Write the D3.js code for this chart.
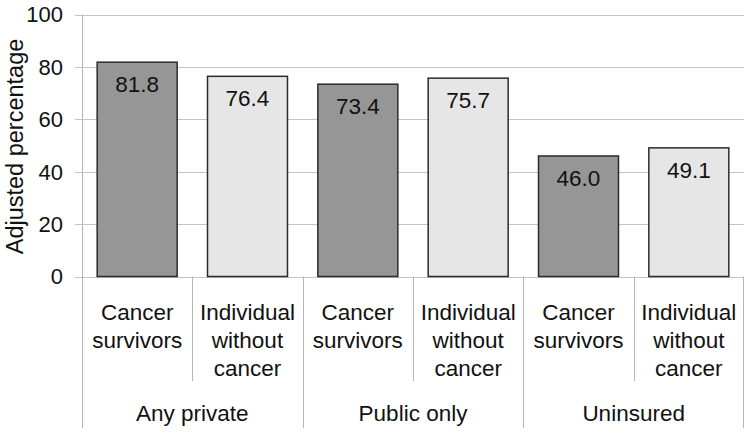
<!DOCTYPE html>
<html>
<head>
<meta charset="utf-8">
<style>
  body { margin: 0; background: #fff; }
  svg text { font-family: 'Liberation Sans', Arial, sans-serif; fill: #111; }
  .grid line { stroke: #c4c4c4; stroke-width: 1; }
  .sep { stroke: #b4b4b4; stroke-width: 1; }
</style>
<title>Adjusted percentage by insurance</title>
</head>
<body>
<svg width="750" height="434"></svg>
<script src="https://cdn.jsdelivr.net/npm/d3@7"></script>
<script>
var groups = ["Any private", "Public only", "Uninsured"];
var seriesNames = ["Cancer survivors", "Individual without cancer"];
var seriesLines = [["Cancer", "survivors"], ["Individual", "without", "cancer"]];
var survivors = [81.8, 73.4, 46.0];
var withoutCancer = [76.4, 75.7, 49.1];
var yTicks = [0, 20, 40, 60, 80, 100];

var colors = ["#969696", "#e6e6e6"];

var svg = d3.select("svg"),
    plotLeft = 82, plotRight = 744, plotTop = 14.5, plotBottom = 276.5;

// one category per bar
var data = [];
groups.forEach(function(g, gi) {
  data.push({group: g, s: 0, key: g + "|0", value: survivors[gi]});
  data.push({group: g, s: 1, key: g + "|1", value: withoutCancer[gi]});
});

var x = d3.scaleBand()
    .domain(data.map(function(d) { return d.key; }))
    .range([plotLeft, plotRight])
    .paddingInner(0.275)
    .paddingOuter(0.1375);

var y = d3.scaleLinear().domain([0, 100]).range([plotBottom, plotTop]);

var step = x.step(),
    half = step * x.paddingInner() / 2;

// gridlines incl. little ticks left of the axis
var grid = svg.append("g").attr("class", "grid");
grid.selectAll("line").data(yTicks).enter().append("line")
    .attr("x1", plotLeft - 7).attr("x2", plotRight)
    .attr("y1", function(d) { return Math.round(y(d)) + 0.5; })
    .attr("y2", function(d) { return Math.round(y(d)) + 0.5; });

svg.append("g").selectAll("text").data(yTicks).enter().append("text")
    .attr("x", plotLeft - 19)
    .attr("y", function(d) { return y(d); })
    .attr("dy", "0.36em")
    .attr("text-anchor", "end")
    .style("font-size", "22px")
    .text(function(d) { return d; });

// vertical axis, extended down through the label area
svg.append("line").attr("class", "sep")
    .attr("x1", plotLeft + 0.5).attr("x2", plotLeft + 0.5)
    .attr("y1", plotTop).attr("y2", 428);

// separators between bars inside a group (short) and between groups (long)
data.forEach(function(d, i) {
  if (i === 0) return;
  var xs = Math.round(x(d.key) - half) + 0.5;
  svg.append("line").attr("class", "sep")
      .attr("x1", xs).attr("x2", xs)
      .attr("y1", plotBottom).attr("y2", d.s === 1 ? 381 : 428);
});
svg.append("line").attr("class", "sep")
    .attr("x1", plotRight - 0.5).attr("x2", plotRight - 0.5)
    .attr("y1", plotBottom).attr("y2", 428);

// bars
svg.append("g").selectAll("rect").data(data).enter().append("rect")
    .attr("x", function(d) { return x(d.key); })
    .attr("y", function(d) { return y(d.value); })
    .attr("width", x.bandwidth())
    .attr("height", function(d) { return y(0) - y(d.value); })
    .attr("fill", function(d) { return colors[d.s]; })
    .attr("stroke", "#2b2b2b")
    .attr("stroke-width", 1.5);

// value labels
svg.append("g").selectAll("text").data(data).enter().append("text")
    .attr("x", function(d) { return x(d.key) + x.bandwidth() / 2; })
    .attr("y", function(d) { return y(d.value) + 30; })
    .attr("text-anchor", "middle")
    .style("font-size", "22.5px")
    .text(function(d) { return d.value.toFixed(1); });

// category labels
var cat = svg.append("g").selectAll("text").data(data).enter().append("text")
    .attr("text-anchor", "middle")
    .style("font-size", "22.5px");
cat.each(function(d) {
  var t = d3.select(this), cx = x(d.key) + x.bandwidth() / 2;
  seriesLines[d.s].forEach(function(line, li) {
    t.append("tspan").attr("x", cx).attr("y", 320 + li * 28).text(line);
  });
});

// group labels
svg.append("g").selectAll("text").data(groups).enter().append("text")
    .attr("x", function(g) { return x(g + "|0") - half + step; })
    .attr("y", 421)
    .attr("text-anchor", "middle")
    .style("font-size", "22.5px")
    .text(function(g) { return g; });

// y axis title
svg.append("text")
    .attr("transform", "translate(23," + ((plotTop + plotBottom) / 2 + 1) + ") rotate(-90)")
    .attr("text-anchor", "middle")
    .style("font-size", "23.5px")
    .text("Adjusted percentage");
</script>
</body>
</html>
